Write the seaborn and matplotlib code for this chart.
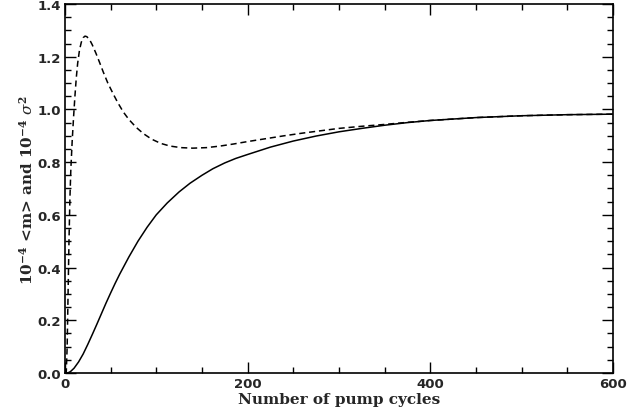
import matplotlib
matplotlib.use("Agg")
import matplotlib.pyplot as plt
from matplotlib.ticker import MultipleLocator
import seaborn as sns
import pandas as pd

# Mean <m> (solid)
mean_x = [0, 3, 6, 10, 15, 20, 25, 30, 35, 40, 45, 50, 55, 60, 70, 80, 90,
          100, 112, 125, 137, 150, 162, 175, 187, 200, 225, 250, 275, 300,
          325, 350, 375, 400, 450, 500, 550, 600]
mean_y = [0.0, 0.0, 0.005, 0.018, 0.042, 0.072, 0.108, 0.146, 0.185, 0.225,
          0.265, 0.303, 0.340, 0.375, 0.44, 0.50, 0.553, 0.60, 0.645, 0.687,
          0.72, 0.75, 0.775, 0.797, 0.814, 0.829, 0.857, 0.880, 0.899, 0.915,
          0.928, 0.940, 0.950, 0.958, 0.969, 0.976, 0.980, 0.982]

# Variance sigma^2 (dashed)
var_x = [0, 1.5, 2.5, 3.5, 4.5, 5.5, 6.5, 8, 9.5, 11, 12.5, 14, 16, 18, 20,
         22, 24, 27, 30, 34, 38, 42, 47, 53, 58, 64, 70, 78, 86, 95, 105,
         115, 127, 140, 155, 170, 185, 200, 220, 240, 260, 280, 300, 325,
         350, 375, 400, 450, 500, 550, 600]
var_y = [0.0, 0.0, 0.1, 0.3, 0.5, 0.66, 0.77, 0.88, 0.97, 1.05, 1.12, 1.175,
         1.225, 1.255, 1.272, 1.278, 1.276, 1.265, 1.245, 1.213, 1.178,
         1.142, 1.10, 1.058, 1.025, 0.99, 0.962, 0.932, 0.908, 0.887, 0.871,
         0.861, 0.855, 0.853, 0.855, 0.861, 0.869, 0.878, 0.889, 0.900,
         0.910, 0.919, 0.928, 0.936, 0.943, 0.951, 0.958, 0.969, 0.976,
         0.980, 0.982]

x_ticks = [0, 200, 400, 600]
y_ticks = [0.0, 0.2, 0.4, 0.6, 0.8, 1.0, 1.2, 1.4]

sns.set_style("ticks")
plt.rcParams['font.family'] = ['DejaVu Sans']
plt.rcParams['mathtext.fontset'] = 'dejavuserif'

fig = plt.figure(figsize=(6.36, 4.14), dpi=100)
ax = fig.add_axes([0.102, 0.0966, 0.862, 0.8914])

df_m = pd.DataFrame({"x": mean_x, "y": mean_y})
df_v = pd.DataFrame({"x": var_x, "y": var_y})

sns.lineplot(data=df_m, x="x", y="y", ax=ax, color="black", linewidth=1.1,
             estimator=None, sort=False)
sns.lineplot(data=df_v, x="x", y="y", ax=ax, color="black", linewidth=1.1,
             estimator=None, sort=False)
ax.lines[1].set_dashes([4, 2.5])

ax.set_xlim(0, 600)
ax.set_ylim(0, 1.4)
ax.set_xticks(x_ticks)
ax.set_yticks(y_ticks)
ax.set_xticklabels([str(t) for t in x_ticks])
ax.set_yticklabels([f"{t:.1f}" for t in y_ticks])
ax.xaxis.set_minor_locator(MultipleLocator(50))
ax.yaxis.set_minor_locator(MultipleLocator(0.05))
ax.tick_params(which="both", direction="in", top=True, right=True,
               color="black", width=1.0)
ax.tick_params(which="major", length=8, labelsize=9.5, pad=3)
ax.tick_params(which="minor", length=4)
for lab in ax.get_xticklabels() + ax.get_yticklabels():
    lab.set_fontweight("bold")
for s in ax.spines.values():
    s.set_linewidth(1.2)
    s.set_color("black")

ax.set_xlabel("Number of pump cycles", fontsize=11, fontweight="bold",
              family="DejaVu Serif", labelpad=1)
ax.set_ylabel(r"10$^{\mathbf{-4}}$ <m> and 10$^{\mathbf{-4}}$ $\sigma^{\mathbf{2}}$",
              fontsize=11, fontweight="bold", family="DejaVu Serif", labelpad=1)

fig.savefig("out.png", dpi=100)
